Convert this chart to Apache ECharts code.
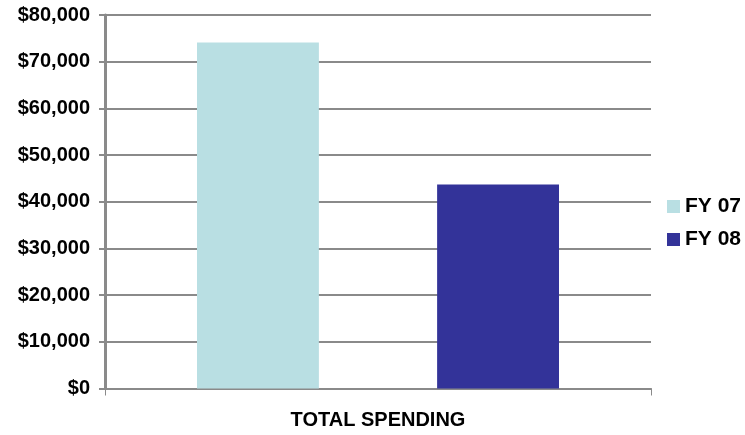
<!DOCTYPE html>
<html>
<head>
<meta charset="utf-8">
<script src="https://cdn.jsdelivr.net/npm/echarts@6/dist/echarts.min.js"></script>
<style>html,body{margin:0;padding:0;background:#fff}#c{width:745px;height:435px}</style>
</head>
<body>
<div id="c"></div>
<script>
var categories = ['TOTAL SPENDING'];
var seriesNames = ['FY 07', 'FY 08'];
var fy07 = [74100];
var fy08 = [43700];
var colors = ['#b9dfe3', '#333399'];

var chart = echarts.init(document.getElementById('c'), null, {renderer: 'canvas'});
var font = '"Liberation Sans Narrow", "Liberation Sans", Arial, sans-serif';
chart.setOption({
  animation: false,
  color: colors,
  grid: {left: 105, right: 94, top: 15, bottom: 46.5, containLabel: false},
  legend: {
    orient: 'vertical', left: 667, top: 196, padding: 0,
    itemWidth: 13, itemHeight: 13, itemGap: 12, icon: 'rect',
    textStyle: {fontFamily: font, fontWeight: 'bold', fontSize: 21, color: '#000'},
    data: seriesNames
  },
  xAxis: {
    type: 'category', data: categories,
    axisLine: {lineStyle: {color: '#8a8a8a', width: 2}},
    axisTick: {show: true, length: 7, lineStyle: {color: '#8a8a8a', width: 1}},
    axisLabel: {margin: 22, fontFamily: font, fontWeight: 'bold', fontSize: 20, color: '#000'}
  },
  yAxis: {
    type: 'value', min: 0, max: 80000, interval: 10000,
    axisLine: {show: true, lineStyle: {color: '#8a8a8a', width: 3}},
    axisTick: {show: true, length: 6, lineStyle: {color: '#8a8a8a', width: 2}},
    splitLine: {lineStyle: {color: '#8a8a8a', width: 2}},
    axisLabel: {
      margin: 15, fontFamily: font, fontWeight: 'bold', fontSize: 20, color: '#000',
      formatter: function (v) { return '$' + v.toLocaleString('en-US'); }
    }
  },
  series: [
    {name: seriesNames[0], type: 'bar', data: fy07, barGap: '97%', barCategoryGap: '33.7%'},
    {name: seriesNames[1], type: 'bar', data: fy08, barGap: '97%', barCategoryGap: '33.7%'}
  ]
});
</script>
</body>
</html>
